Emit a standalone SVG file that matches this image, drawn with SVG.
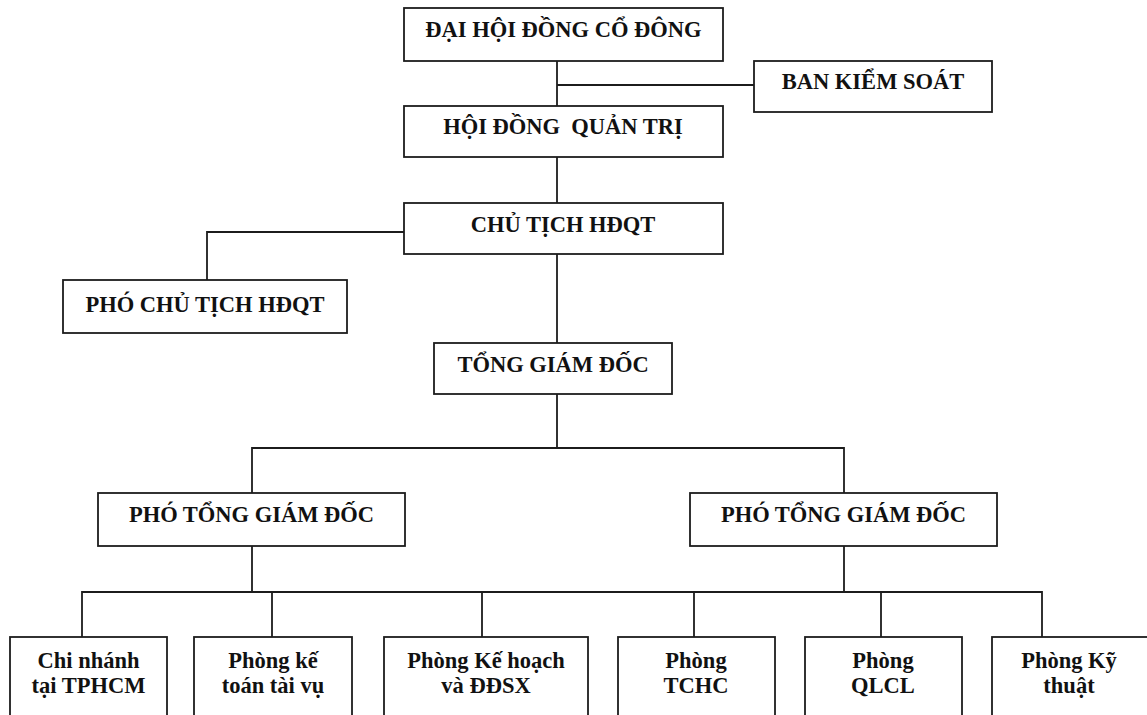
<svg xmlns="http://www.w3.org/2000/svg" width="1147" height="715" viewBox="0 0 1147 715">
<style>
.box{fill:#fff;stroke:#1c1c1c;stroke-width:1.8}
.ln{fill:none;stroke:#1c1c1c;stroke-width:1.8}
text{font-family:"Liberation Serif","Times New Roman",serif;font-weight:bold;font-size:22.5px;fill:#111;text-anchor:middle}
</style>
<rect width="1147" height="715" fill="#fff"/>
<g id="connectors">
<path class="ln" d="M557,61 V106 M557,85 H754"/>
<path class="ln" d="M557,157 V203"/>
<path class="ln" d="M404,232 H207 V280"/>
<path class="ln" d="M557,254 V343"/>
<path class="ln" d="M557,394 V448 M252,493 V448 H844 V493"/>
<path class="ln" d="M252,546 V592 M844,546 V592 M82,637 V592 H1042 V637 M272,592 V637 M482,592 V637 M694,592 V637 M881,592 V637"/>
</g>
<g id="dhdcd"><rect class="box" x="404" y="8" width="319" height="53"/><text x="563.5" y="37">ĐẠI HỘI ĐỒNG CỔ ĐÔNG</text></g>
<g id="bks"><rect class="box" x="754" y="61" width="238" height="51"/><text x="873" y="89">BAN KIỂM SOÁT</text></g>
<g id="hdqt"><rect class="box" x="404" y="106" width="319" height="51"/><text x="563" y="134" xml:space="preserve">HỘI ĐỒNG  QUẢN TRỊ</text></g>
<g id="ct-hdqt"><rect class="box" x="404" y="203" width="319" height="51"/><text x="563" y="232">CHỦ TỊCH HĐQT</text></g>
<g id="pct-hdqt"><rect class="box" x="63" y="280" width="284" height="53"/><text x="205" y="312">PHÓ CHỦ TỊCH HĐQT</text></g>
<g id="tgd"><rect class="box" x="434" y="343" width="238" height="51"/><text x="553" y="372">TỔNG GIÁM ĐỐC</text></g>
<g id="ptgd1"><rect class="box" x="98" y="493" width="307" height="53"/><text x="251.5" y="522">PHÓ TỔNG GIÁM ĐỐC</text></g>
<g id="ptgd2"><rect class="box" x="690" y="493" width="307" height="53"/><text x="843.5" y="522">PHÓ TỔNG GIÁM ĐỐC</text></g>
<g id="cn-tphcm"><rect class="box" x="10" y="637" width="157" height="90"/><text x="88.5" y="668">Chi nhánh</text><text x="88.5" y="693">tại TPHCM</text></g>
<g id="p-ktoan"><rect class="box" x="194" y="637" width="158" height="90"/><text x="273" y="668">Phòng kế</text><text x="273" y="693">toán tài vụ</text></g>
<g id="p-kh"><rect class="box" x="384" y="637" width="204" height="90"/><text x="486" y="668">Phòng Kế hoạch</text><text x="486" y="693">và ĐĐSX</text></g>
<g id="p-tchc"><rect class="box" x="618" y="637" width="157" height="90"/><text x="696" y="668">Phòng</text><text x="696" y="693">TCHC</text></g>
<g id="p-qlcl"><rect class="box" x="805" y="637" width="157" height="90"/><text x="883" y="668">Phòng</text><text x="883" y="693">QLCL</text></g>
<g id="p-kt"><rect class="box" x="992" y="637" width="158" height="90"/><text x="1069" y="668">Phòng Kỹ</text><text x="1069" y="693">thuật</text></g>
</svg>
